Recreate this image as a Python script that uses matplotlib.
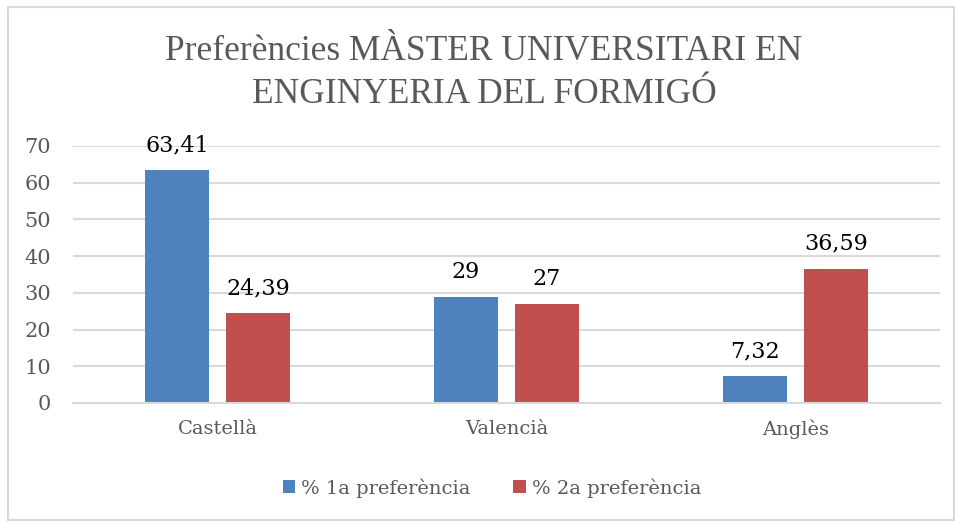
import matplotlib
matplotlib.use("Agg")
import matplotlib.pyplot as plt
import numpy as np
from matplotlib.patches import Rectangle

categories = ["Castellà", "Valencià", "Anglès"]
series_names = ["% 1a preferència", "% 2a preferència"]
pref1 = [63.41, 29, 7.32]
pref2 = [24.39, 27, 36.59]
labels1 = ["63,41", "29", "7,32"]
labels2 = ["24,39", "27", "36,59"]
yticks = [0, 10, 20, 30, 40, 50, 60, 70]

blue = "#4F81BD"
red = "#C0504D"
grey = "#595959"
serif = ["DejaVu Serif"]
title_font = ["Liberation Serif", "DejaVu Serif"]

fig = plt.figure(figsize=(9.56, 5.22), dpi=100)
fig.patches.append(Rectangle((8/956, 2/522), 946/956, 513/522, transform=fig.transFigure,
                             fill=False, edgecolor="#D9D9D9", linewidth=1.5))
ax = fig.add_axes([73/956, 1-403/522, 867/956, (403-146)/522])

x = np.arange(len(categories))
w = 0.221
off = 0.14
b1 = ax.bar(x - off, pref1, w, color=blue, label=series_names[0])
b2 = ax.bar(x + off, pref2, w, color=red, label=series_names[1])
for bars, labs in ((b1, labels1), (b2, labels2)):
    for rect, lab in zip(bars, labs):
        ax.annotate(lab, (rect.get_x() + rect.get_width()/2, rect.get_height()),
                    xytext=(0, 10), textcoords="offset points", ha="center", va="bottom",
                    fontsize=16, family=serif, color="black")

ax.set_xlim(-0.5, 2.5)
ax.set_ylim(0, 70)
ax.set_yticks(yticks)
ax.set_yticklabels([str(t) for t in yticks], family=serif, fontsize=15, color=grey)
ax.set_xticks(x)
ax.set_xticklabels(categories, family=serif, fontsize=14, color=grey)
ax.tick_params(axis="x", length=0, pad=12)
ax.tick_params(axis="y", length=0, pad=16)
ax.yaxis.grid(True, color="#D9D9D9", linewidth=1.5)
ax.set_axisbelow(True)
for s in ["top", "right", "left"]:
    ax.spines[s].set_visible(False)
ax.spines["bottom"].set_color("#D9D9D9")
ax.spines["bottom"].set_linewidth(1.5)

fig.text(0.5 + 6/956, 1-73/522, "Preferències MÀSTER UNIVERSITARI EN\nENGINYERIA DEL FORMIGÓ",
         ha="center", va="center", fontsize=25.5, color=grey, family=title_font,
         linespacing=1.42)

leg = fig.legend(loc="center", bbox_to_anchor=(0.5 + 14/956, 1-488/522), ncol=2, frameon=False,
                 prop={"family": serif, "size": 14}, handlelength=0.65, handleheight=0.65,
                 handletextpad=0.3, columnspacing=2.2)
for t in leg.get_texts():
    t.set_color(grey)

fig.savefig("out.png", dpi=100)
